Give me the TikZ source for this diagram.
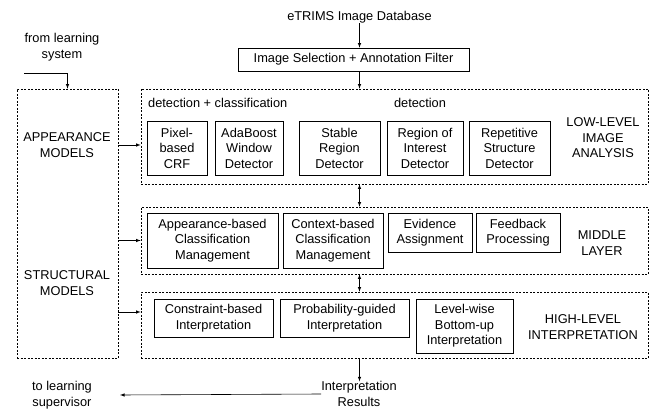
\documentclass[tikz,border=0pt]{standalone}
\usepackage{fontspec}
\setmainfont{Liberation Sans}
\begin{document}
\begin{tikzpicture}[x=1pt,y=-1pt,>=latex,
	every node/.style={font=\fontsize{12.8}{15.5}\selectfont,align=center,inner sep=0pt},
	box/.style={draw,line width=.7pt},
	frame/.style={draw,line width=.7pt,dash pattern=on 2pt off 1.5pt},
	conn/.style={->,line width=.6pt}]
	\useasboundingbox (0,0) rectangle (656,409);
	% frames
	\node[frame,minimum width=507,minimum height=95] (low) at (394.5,136.5) {};
	\node[frame,minimum width=507,minimum height=67] (mid) at (394.5,240.5) {};
	\node[frame,minimum width=507,minimum height=66] (high) at (394.5,325) {};
	\node[frame,minimum width=101,minimum height=269] (app) at (67.5,223.5) {};
	% top
	\node (db) at (359.5,17) {eTRIMS Image Database};
	\node[box,minimum width=231,minimum height=23] (filt) at (353.5,59.5) {Image Selection + Annotation Filter};
	% low-level
	\node[anchor=west] (detcls) at (148,103) {detection + classification};
	\node (det) at (420,103) {detection};
	\node[box,minimum width=60,minimum height=54] (crf) at (177,148) {Pixel-\\based\\CRF};
	\node[box,minimum width=68,minimum height=54] (ada) at (249,148) {AdaBoost\\Window\\Detector};
	\node[box,minimum width=81,minimum height=54] (stab) at (339.5,148) {Stable\\Region\\Detector};
	\node[box,minimum width=76,minimum height=54] (roi) at (425,148) {Region of\\Interest\\Detector};
	\node[box,minimum width=81,minimum height=54] (rep) at (509.5,148) {Repetitive\\Structure\\Detector};
	\node (lowlbl) at (603,138) {LOW-LEVEL\\IMAGE\\ANALYSIS};
	% middle layer
	\node[box,minimum width=131,minimum height=55] (appcls) at (212.5,240.5) {Appearance-based\\Classification\\Management};
	\node[box,minimum width=100,minimum height=55] (ctxcls) at (333,240.5) {Context-based\\Classification\\Management};
	\node[box,minimum width=84,minimum height=39] (evid) at (430,232.5) {Evidence\\Assignment};
	\node[box,minimum width=84,minimum height=39] (feed) at (518,232.5) {Feedback\\Processing};
	\node (midlbl) at (602,243) {MIDDLE\\LAYER};
	% high-level
	\node[box,minimum width=119,minimum height=38] (cons) at (213.5,318) {Constraint-based\\Interpretation};
	\node[box,minimum width=129,minimum height=38] (prob) at (344.5,318) {Probability-guided\\Interpretation};
	\node[box,minimum width=97,minimum height=54] (lvl) at (464.5,326) {Level-wise\\Bottom-up\\Interpretation};
	\node (highlbl) at (583,327) {HIGH-LEVEL\\INTERPRETATION};
	% models
	\node (amod) at (67,145) {APPEARANCE\\MODELS};
	\node (smod) at (67,283) {STRUCTURAL\\MODELS};
	\node (learn) at (62,47) {from learning\\system};
	\node (sup) at (62,395) {to learning\\supervisor};
	\node (res) at (359,394) {Interpretation\\Results};
	\coordinate (lrn) at (24,73);
	\coordinate (supin) at (120,395);
	% connectors
	\draw[conn] (db.south) -- (db.south |- filt.north);
	\draw[conn] (db.south |- filt.south) -- (db.south |- low.north);
	\draw[conn,<->] (db.south |- low.south) -- (db.south |- mid.north);
	\draw[conn,<->] (db.south |- mid.south) -- (db.south |- high.north);
	\draw[conn] (db.south |- high.south) -- (db.south |- res.north);
	\draw[conn] (res.west) -- (supin);
	\draw[conn] (lrn) -| (app.north);
	\draw[conn] (app.east |- amod) -- (low.west |- amod);
	\draw[conn] (app.east |- mid) -- (mid.west);
	\draw[conn] (app.east |- 0,312) -- (high.west |- 0,312);
\end{tikzpicture}
\end{document}
